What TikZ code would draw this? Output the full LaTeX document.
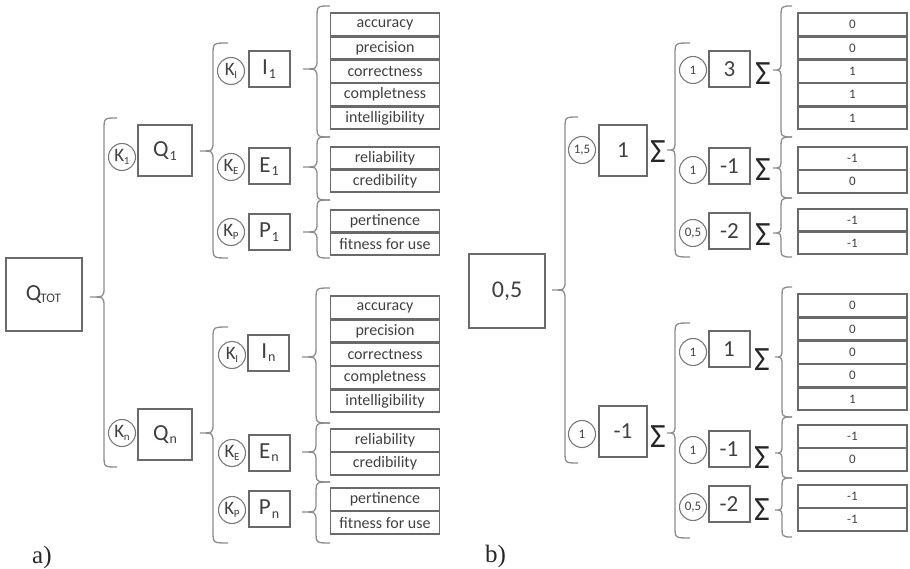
\documentclass[tikz,border=0pt]{standalone}
\usepackage{fontspec}
\setmainfont{Carlito}
\newfontfamily\lblfont{Liberation Serif}
\definecolor{boxc}{HTML}{6A6A6A}
\definecolor{bracec}{HTML}{8C8C8C}
\definecolor{circc}{HTML}{7A7A7A}
\definecolor{txtc}{HTML}{404040}
\definecolor{sigc}{HTML}{262626}
\newcommand{\ksub}[1]{\kern-0.3pt\raisebox{-3pt}{\fontsize{11}{11}\selectfont #1}}
\newcommand{\qsub}[1]{\kern1pt\raisebox{-3.5pt}{\fontsize{14}{14}\selectfont #1}}
\newcommand{\cbr}[6]{\draw[brc] (#1,#4) .. controls (#2,#4) .. (#2,{#4+12}) -- (#2,{#5-10}) .. controls (#2,#5) .. (#3,#5) .. controls (#2,#5) .. (#2,{#5+10}) -- (#2,{#6-12}) .. controls (#2,#6) .. (#1,#6);}
\begin{document}
\begin{tikzpicture}[x=1pt,y=-1pt,
  bx/.style={draw=boxc,line width=2pt,text=txtc,inner sep=0pt,font=\fontsize{23}{23}\selectfont},
  bigbx/.style={bx,minimum width=76pt,minimum height=73pt},
  midbx/.style={bx,minimum width=54pt,minimum height=51pt},
  midbxb/.style={bx,minimum width=48pt,minimum height=51pt},
  smbx/.style={bx,minimum width=41pt,minimum height=36pt},
  leaf/.style={draw=boxc,line width=1.8pt,minimum width=109pt,minimum height=22.4pt,inner sep=0pt,text=txtc,font=\fontsize{16}{16}\selectfont},
  leafn/.style={leaf,font=\fontsize{13}{13}\selectfont},
  kc/.style={circle,draw=circc,line width=1.1pt,minimum size=27pt,inner sep=0pt,text=txtc,font=\fontsize{19}{19}\selectfont},
  nc/.style={kc,font=\fontsize{13}{13}\selectfont},
  sig/.style={inner sep=0pt,text=sigc,font=\fontsize{34}{34}\selectfont},
  brc/.style={draw=bracec,line width=1.3pt},
  lbl/.style={inner sep=0pt,text=black!85,font=\lblfont\fontsize{25}{25}\selectfont}]
\useasboundingbox (0,0) rectangle (910,569);

% ---------- panel a ----------
\node[bigbx] (qtot) at (43.5,294.5) {Q\kern-1pt\raisebox{-2.5pt}{\fontsize{13}{13}\selectfont TOT}};
\cbr{117}{104}{90}{118}{297}{467}

\node[kc] (k1) at (122,157) {K\ksub{1}};
\node[midbx] (q1) at (165,151) {Q\qsub{1}};
\cbr{228}{213}{200}{43}{151}{258}

\node[kc] (kI1) at (231,71) {K\ksub{I}};
\node[smbx] (i1) at (269,69) {I\qsub{1}};
\node[kc] (kE1) at (231,167) {K\ksub{E}};
\node[smbx] (e1) at (269,166.5) {E\qsub{1}};
\node[kc] (kP1) at (231,232) {K\ksub{P}};
\node[smbx] (p1) at (269,232) {P\qsub{1}};
\cbr{330}{317}{303}{6}{69}{137}
\cbr{330}{317}{303}{137}{167}{200}
\cbr{330}{317}{303}{200}{232}{258}

\foreach \t [count=\i from 0] in {accuracy,precision,correctness,completness,intelligibility}
  \node[leaf] (aI1-\i) at (385,{24.5+23.4*\i}) {\t};
\node[leaf] (aE1-0) at (385,158) {reliability};
\node[leaf] (aE1-1) at (385,181.1) {credibility};
\node[leaf] (aP1-0) at (385,221) {pertinence};
\node[leaf] (aP1-1) at (385,244.1) {fitness for use};

\node[kc] (kn) at (122,433) {K\ksub{n}};
\node[midbx] (qn) at (165,434.5) {Q\qsub{n}};
\cbr{228}{213}{200}{327}{433}{543}

\node[kc] (kIn) at (232,355) {K\ksub{I}};
\node[smbx] (In) at (268.5,352.5) {I\qsub{n}};
\node[kc] (kEn) at (232,453) {K\ksub{E}};
\node[smbx] (En) at (269,452.5) {E\qsub{n}};
\node[kc] (kPn) at (232,510) {K\ksub{P}};
\node[smbx] (Pn) at (269,509) {P\qsub{n}};
\cbr{330}{316}{302}{288}{357}{423}
\cbr{330}{316}{302}{423}{452}{482}
\cbr{330}{316}{302}{482}{512}{543}

\foreach \t [count=\i from 0] in {accuracy,precision,correctness,completness,intelligibility}
  \node[leaf] (aIn-\i) at (385,{307.5+23.4*\i}) {\t};
\node[leaf] (aEn-0) at (385,440.5) {reliability};
\node[leaf] (aEn-1) at (385,463.6) {credibility};
\node[leaf] (aPn-0) at (385,499.5) {pertinence};
\node[leaf] (aPn-1) at (385,522.6) {fitness for use};

\node[lbl,anchor=base west] (la) at (32,563) {a)};

% ---------- panel b ----------
\node[bigbx,font=\fontsize{24}{24}\selectfont] (b0) at (507,291) {0,5};
\cbr{578}{565}{552}{117}{290}{463}

\node[nc] (w1) at (582,150) {1,5};
\node[midbxb] (b1) at (623,150.5) {1};
\node[sig] (s1) at (658,152) {Σ};
\cbr{690}{675}{667}{43}{150}{257}

\node[nc] (w11) at (693,70) {1};
\node[smbx] (b11) at (729.5,69) {3};
\node[sig] (s11) at (763,74) {Σ};
\cbr{792}{781}{773}{6}{70}{137}
\foreach \t [count=\i from 0] in {0,0,1,1,1}
  \node[leafn] (v11-\i) at (852.5,{24.5+23.4*\i}) {\t};

\node[nc] (w12) at (693,170) {1};
\node[smbx] (b12) at (729.5,166.5) {-1};
\node[sig] (s12) at (763,170) {Σ};
\cbr{792}{781}{773}{137}{168}{198}
\node[leafn] (v12-0) at (852.5,158.5) {-1};
\node[leafn] (v12-1) at (852.5,181.6) {0};

\node[nc] (w13) at (693,233) {0,5};
\node[smbx] (b13) at (729.5,231) {-2};
\node[sig] (s13) at (763,235) {Σ};
\cbr{792}{781}{773}{198}{233}{257}
\node[leafn] (v13-0) at (852.5,220) {-1};
\node[leafn] (v13-1) at (852.5,243.1) {-1};

\node[nc] (w2) at (582,434) {1};
\node[midbxb] (b2) at (623,431) {-1};
\node[sig] (s2) at (658,437) {Σ};
\cbr{690}{675}{667}{323}{433}{538}

\node[nc] (w21) at (693,352) {1};
\node[smbx] (b21) at (729,349) {1};
\node[sig] (s21) at (762,360) {Σ};
\cbr{792}{782}{775}{287}{357}{417}
\foreach \t [count=\i from 0] in {0,0,0,0,1}
  \node[leafn] (v21-\i) at (852.5,{305.5+23.4*\i}) {\t};

\node[nc] (w22) at (693,450) {1};
\node[smbx] (b22) at (729,449) {-1};
\node[sig] (s22) at (762,458) {Σ};
\cbr{792}{782}{775}{417}{453}{478}
\node[leafn] (v22-0) at (852.5,436.5) {-1};
\node[leafn] (v22-1) at (852.5,459.6) {0};

\node[nc] (w23) at (693,507) {0,5};
\node[smbx] (b23) at (729,504) {-2};
\node[sig] (s23) at (762,510) {Σ};
\cbr{792}{782}{775}{478}{510}{537}
\node[leafn] (v23-0) at (852.5,496.5) {-1};
\node[leafn] (v23-1) at (852.5,519.6) {-1};

\node[lbl,anchor=base west] (lb) at (485,562) {b)};
\end{tikzpicture}
\end{document}
